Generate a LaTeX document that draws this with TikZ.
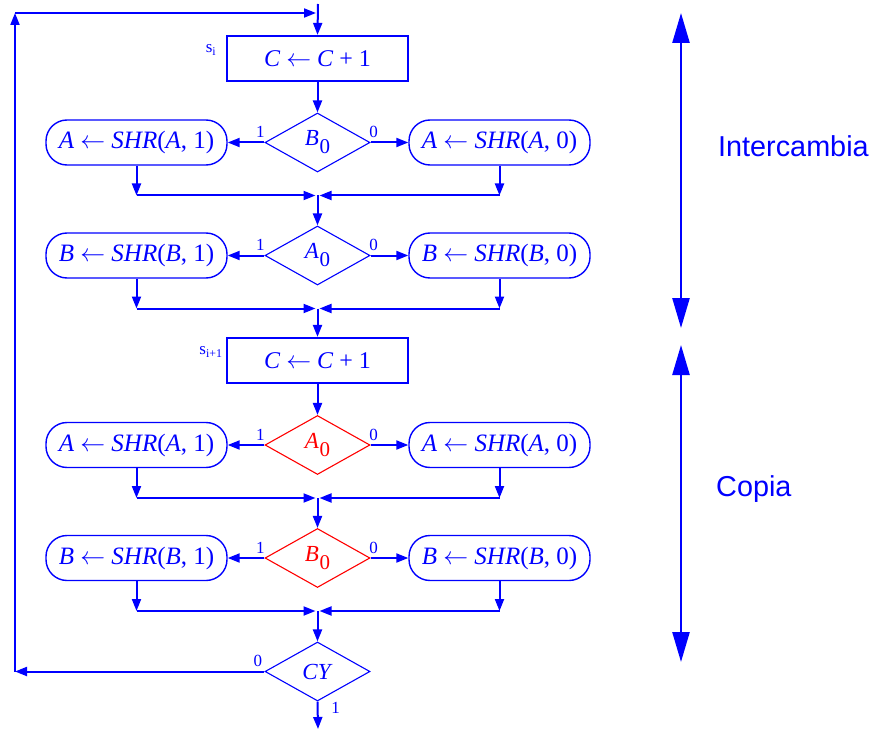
\documentclass[tikz,border=0pt]{standalone}
\usepackage{fontspec}
\setmainfont{Liberation Serif}
\newfontfamily\labsans{Liberation Sans}
\usetikzlibrary{shapes.geometric,arrows.meta}
\definecolor{fb}{RGB}{0,0,255}
\definecolor{fr}{RGB}{255,0,0}
\newcommand{\zsub}[1]{\kern0.5pt\raisebox{-8pt}{\fontsize{21}{21}\selectfont #1}}
\tikzset{
  arr/.style={draw=fb, line width=2pt, -{Triangle[length=12pt,width=9pt]}},
  procbox/.style={draw=fb, line width=2.2pt, minimum width=181pt, minimum height=45pt,
    text=fb, font=\fontsize{24}{24}\selectfont, inner sep=0pt},
  term/.style={draw=fb, line width=1.4pt, rounded corners=21pt, minimum width=181pt,
    minimum height=45pt, text=fb, font=\fontsize{25}{25}\selectfont, inner sep=0pt},
  dec/.style={diamond, draw=fb, line width=1.1pt, minimum width=105pt, minimum height=59pt,
    aspect=1.78, inner sep=0pt, text=fb, font=\fontsize{23}{23}\selectfont},
  decred/.style={dec, draw=fr, text=fr},
  bit/.style={text=fb, font=\fontsize{17}{17}\selectfont, inner sep=0pt},
  big/.style={draw=fb, line width=2.5pt,
    {Triangle[length=30pt,width=17pt]}-{Triangle[length=30pt,width=17pt]}},
  side/.style={text=fb, font=\labsans\fontsize{28.8}{30}\selectfont, inner sep=0pt, anchor=west},
}
\begin{document}
\begin{tikzpicture}[x=1pt,y=-1pt]
\useasboundingbox (0,0) rectangle (878,730);
% coordinates for free ends
\coordinate (tin) at (318,4);
\coordinate (j0) at (318,13);
\coordinate (lt) at (15,13);
\coordinate (lc) at (15,671.5);
\coordinate (out) at (318,729);
% process boxes
\node[procbox] (b1) at (317.5,58.5) {\textit{C} $\leftarrow$ \textit{C} + 1};
\node[procbox] (b2) at (317.5,360.5) {\textit{C} $\leftarrow$ \textit{C} + 1};
\node[bit,font=\fontsize{17}{17}\selectfont] (si) at (211,50) {s\textsubscript{i}};
\node[bit,font=\fontsize{17}{17}\selectfont] (si1) at (211,352) {s\textsubscript{i+1}};
% rows
\foreach \ii/\yy/\rv/\tv/\st in {1/142.5/A/B/dec,2/255.5/B/A/dec,3/445/A/A/decred,4/558/B/B/decred}{
  \node[\st] (d\ii) at (317.5,\yy) {\textit{\tv}\zsub{0}};
  \node[term] (l\ii) at (136.5,\yy) {\textit{\rv} $\leftarrow$ \textit{SHR}(\textit{\rv}, 1)};
  \node[term] (r\ii) at (499.5,\yy) {\textit{\rv} $\leftarrow$ \textit{SHR}(\textit{\rv}, 0)};
  \coordinate (m\ii) at (317.5,\yy+53);
  \draw[arr] (d\ii.west) -- (l\ii.east);
  \draw[arr] (d\ii.east) -- (r\ii.west);
  \node[bit] (one\ii) at ([shift={(-4,-10.5)}]d\ii.west) {1};
  \node[bit] (zero\ii) at ([shift={(3,-10.5)}]d\ii.east) {0};
  \draw[arr] (l\ii.south) -- (l\ii.south |- m\ii);
  \draw[arr] (r\ii.south) -- (r\ii.south |- m\ii);
  \draw[arr,shorten >=2pt] (l\ii.south |- m\ii) -- (m\ii);
  \draw[arr,shorten >=2pt] (r\ii.south |- m\ii) -- (m\ii);
}
\node[dec] (cy) at (317.5,671.5) {\textit{CY}};
\node[bit] (cy0) at ([shift={(-6.5,-10.5)}]cy.west) {0};
\node[bit] (cy1) at ([shift={(18,6)}]cy.south) {1};
% vertical flow
\draw[arr] (tin) -- (b1.north);
\draw[arr] (b1.south) -- (d1.north);
\draw[arr] (m1) -- (d2.north);
\draw[arr] (m2) -- (b2.north);
\draw[arr] (b2.south) -- (d3.north);
\draw[arr] (m3) -- (d4.north);
\draw[arr] (m4) -- (cy.north);
\draw[arr] (cy.south) -- (out);
% loop back
\draw[arr] (cy.west) -- (lc);
\draw[arr] (lc) -- (lt);
\draw[arr,shorten >=2pt] (lt) -- (j0);
% side arrows and labels
\coordinate (a1t) at (681,13);
\coordinate (a1b) at (681,328);
\coordinate (a2t) at (681,345);
\coordinate (a2b) at (681,662);
\draw[big] (a1t) -- (a1b);
\draw[big] (a2t) -- (a2b);
\node[side] (inter) at (718,146) {Intercambia};
\node[side] (copia) at (716,489) {Copia};
\end{tikzpicture}
\end{document}
